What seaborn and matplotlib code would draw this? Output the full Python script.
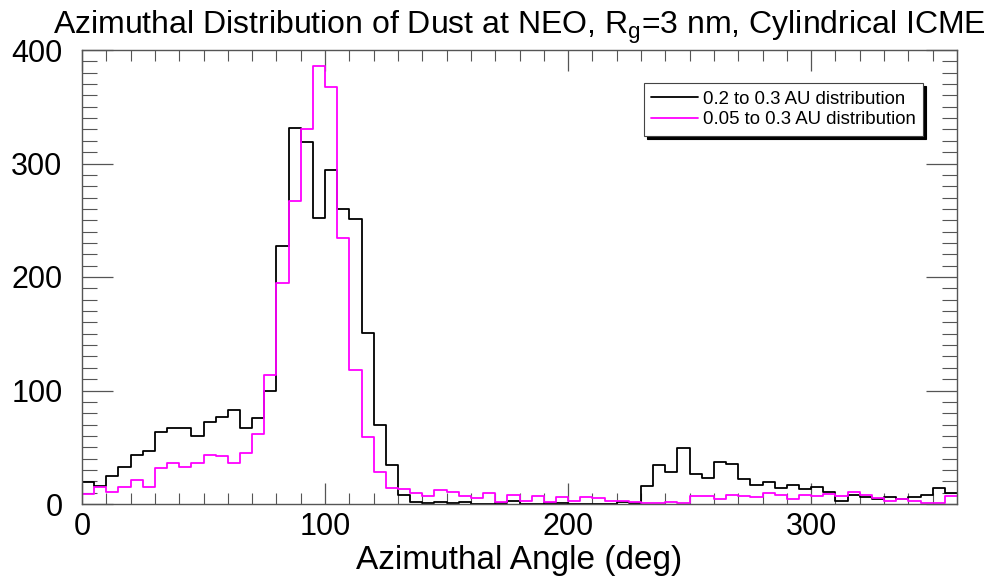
import numpy as np
import pandas as pd
import seaborn as sns
import matplotlib
matplotlib.use("Agg")
import matplotlib.pyplot as plt
from matplotlib.lines import Line2D
from matplotlib.ticker import MultipleLocator

# 5-degree azimuthal bins, 0..360
bin_width = 5
angle_range = (0, 360)

counts_02_03 = [19, 16, 25, 33, 43, 47, 63, 67, 67, 60, 72, 77, 83, 67, 76, 100,
                227, 331, 319, 252, 294, 260, 251, 151, 70, 34, 8, 2, 1, 2, 1, 2,
                0, 0, 1, 3, 0, 0, 1, 1, 0, 0, 0, 0, 2, 1, 16, 34,
                28, 49, 26, 23, 37, 35, 22, 17, 19, 14, 17, 13, 15, 11, 3, 8,
                6, 4, 6, 4, 6, 8, 14, 10]

counts_005_03 = [9, 15, 11, 15, 21, 15, 32, 36, 33, 36, 43, 42, 36, 45, 62, 114,
                 195, 267, 330, 386, 367, 234, 118, 59, 28, 14, 13, 10, 7, 12, 11, 7,
                 5, 10, 2, 8, 3, 7, 2, 6, 3, 6, 5, 3, 3, 2, 1, 1,
                 2, 1, 7, 7, 4, 8, 7, 6, 10, 8, 4, 8, 7, 9, 7, 11,
                 8, 5, 3, 4, 3, 1, 1, 7]

series_labels = ["0.2 to 0.3 AU distribution", "0.05 to 0.3 AU distribution"]
series_colors = ["black", "#FF00FF"]

centers = np.arange(angle_range[0], angle_range[1], bin_width) + bin_width / 2.0

sns.set_theme(style="white")
plt.rcParams['font.family'] = ['Liberation Sans', 'DejaVu Sans']
plt.rcParams['text.color'] = 'black'
plt.rcParams['axes.labelcolor'] = 'black'
plt.rcParams['xtick.color'] = 'black'
plt.rcParams['ytick.color'] = 'black'

fig = plt.figure(figsize=(10.02, 5.79), dpi=100)
ax = fig.add_axes([82/1002, 1 - 504/579, (957-82)/1002, (504-50)/579])

for vals, lab, col in zip([counts_02_03, counts_005_03], series_labels, series_colors):
    df = pd.DataFrame({"angle": centers, "count": np.asarray(vals, dtype=float)})
    sns.histplot(data=df, x="angle", weights="count", binwidth=bin_width,
                 binrange=angle_range, element="step", fill=False, color=col,
                 linewidth=1.3, ax=ax)

ax.set_xlim(0, 360)
ax.set_ylim(0, 400)
ax.xaxis.set_major_locator(MultipleLocator(100))
ax.xaxis.set_minor_locator(MultipleLocator(10))
ax.yaxis.set_major_locator(MultipleLocator(100))
ax.yaxis.set_minor_locator(MultipleLocator(10))

spine_col = "#555555"
for s in ax.spines.values():
    s.set_color(spine_col)
    s.set_linewidth(1.0)
    s.set_visible(True)

ax.tick_params(axis="x", which="major", direction="in", length=15, width=0.9,
               color=spine_col, labelcolor="black", top=True, bottom=True,
               labelsize=22, pad=6)
ax.tick_params(axis="x", which="minor", direction="in", length=8, width=0.8,
               color=spine_col, top=True, bottom=True)
ax.tick_params(axis="y", which="major", direction="in", length=22, width=0.9,
               color=spine_col, labelcolor="black", left=True, right=True,
               labelsize=22, pad=14)
ax.tick_params(axis="y", which="minor", direction="in", length=11, width=0.8,
               color=spine_col, left=True, right=True)

ax.set_title("Azimuthal Distribution of Dust at NEO, R$_\\mathregular{g}$=3 nm, Cylindrical ICME",
             fontsize=23, color="black", pad=12)
ax.set_xlabel("Azimuthal Angle (deg)", fontsize=24, color="black", labelpad=2)
ax.set_ylabel("")

handles = [Line2D([0], [0], color=c, lw=1.3) for c in series_colors]
leg = ax.legend(handles, series_labels, loc="upper left", bbox_to_anchor=(0.642, 0.927),
                borderaxespad=0.0, fontsize=13.4, handlelength=2.5, handletextpad=0.27,
                borderpad=0.4, labelspacing=0.2, frameon=True, fancybox=False,
                shadow={'color': 'black', 'alpha': 1.0}, framealpha=1.0)
leg.get_frame().set_edgecolor("#444444")
leg.get_frame().set_linewidth(0.8)

fig.savefig("out.png", dpi=100)
